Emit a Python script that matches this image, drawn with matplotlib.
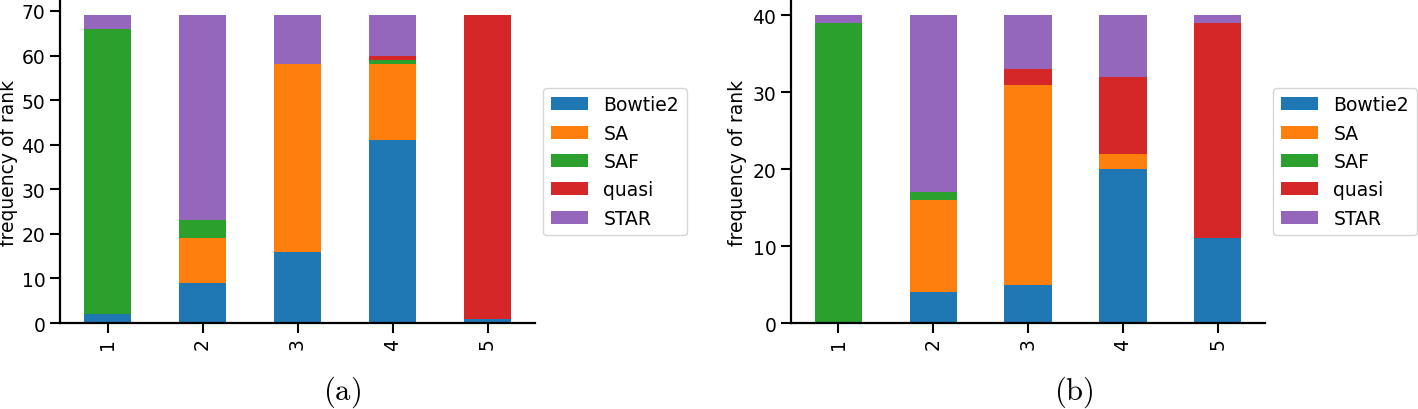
import matplotlib
matplotlib.use("Agg")
import matplotlib.pyplot as plt
import numpy as np

ranks = ["1", "2", "3", "4", "5"]
methods = ["Bowtie2", "SA", "SAF", "quasi", "STAR"]

# panel (a): frequency of rank per method (rows = methods, cols = ranks)
a_bowtie2 = [2, 9, 16, 41, 1]
a_sa = [0, 10, 42, 17, 0]
a_saf = [64, 4, 0, 1, 0]
a_quasi = [0, 0, 0, 1, 68]
a_star = [3, 46, 11, 9, 0]

# panel (b)
b_bowtie2 = [0, 4, 5, 20, 11]
b_sa = [0, 12, 26, 2, 0]
b_saf = [39, 1, 0, 0, 0]
b_quasi = [0, 0, 2, 10, 28]
b_star = [1, 23, 7, 8, 1]

colors = ["#1f77b4", "#ff7f0e", "#2ca02c", "#d62728", "#9467bd"]

plt.rcParams["font.family"] = ["DejaVu Sans"]
plt.rcParams["mathtext.fontset"] = "cm"
FS = 13.5

fig = plt.figure(figsize=(14.18, 4.10), dpi=100)
W, H = 1418.0, 410.0
ax_a = fig.add_axes([60 / W, 1 - 324 / H, (535 - 60) / W, 323 / H])
ax_b = fig.add_axes([791 / W, 1 - 324 / H, (1265 - 791) / W, 323 / H])


def draw(ax, series, ylim_top, labelpad):
    x = np.arange(len(ranks))
    bottom = np.zeros(len(ranks))
    for name, vals, c in zip(methods, series, colors):
        vals = np.array(vals, dtype=float)
        ax.bar(x, vals, width=0.5, bottom=bottom, color=c, label=name, linewidth=0)
        bottom += vals
    ax.set_xlim(-0.5, len(ranks) - 0.5)
    ax.set_ylim(0, ylim_top)
    ax.set_xticks(x)
    ax.set_xticklabels(ranks, rotation=90, fontsize=FS)
    ax.tick_params(axis="y", labelsize=FS)
    ax.tick_params(length=7, width=1.5)
    ax.set_ylabel("frequency of rank", fontsize=FS, labelpad=labelpad)
    for s in ["top", "right"]:
        ax.spines[s].set_visible(False)
    for s in ["left", "bottom"]:
        ax.spines[s].set_linewidth(1.6)
    ax.legend(loc="center left", bbox_to_anchor=(1.0, 0.5), fontsize=FS,
              borderaxespad=0.45)


draw(ax_a, [a_bowtie2, a_sa, a_saf, a_quasi, a_star], 69 * 1.05, 2.5)
draw(ax_b, [b_bowtie2, b_sa, b_saf, b_quasi, b_star], 40 * 1.05, 4)
ax_a.set_yticks(range(0, 71, 10))
ax_b.set_yticks(range(0, 41, 10))

fig.text(342 / W, 1 - 392 / H, r"$\mathrm{(a)}$", fontsize=22, ha="center", va="center")
fig.text(1074 / W, 1 - 392 / H, r"$\mathrm{(b)}$", fontsize=22, ha="center", va="center")

fig.savefig("out.png", dpi=100)
